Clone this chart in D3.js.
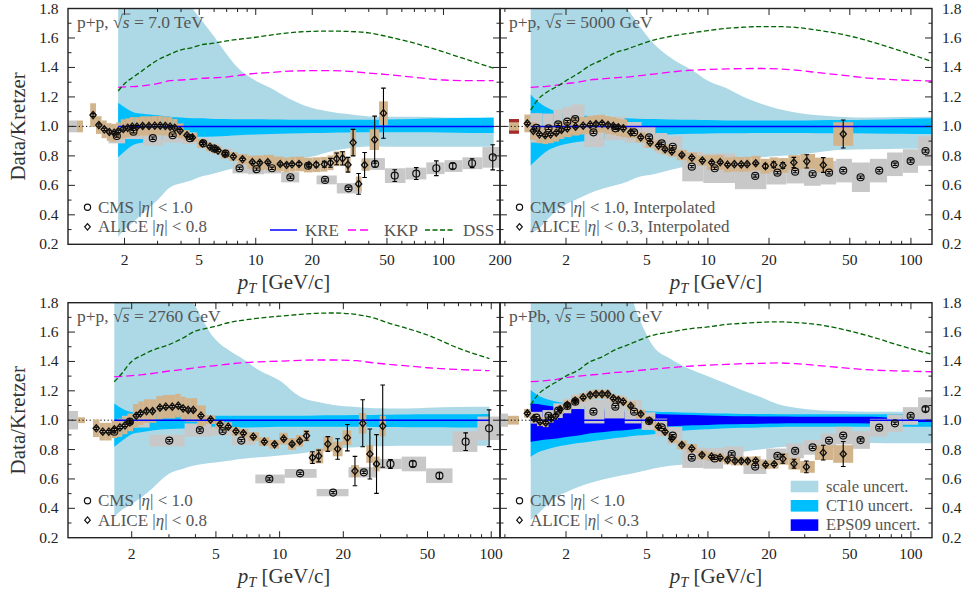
<!DOCTYPE html>
<html><head><meta charset="utf-8">
<script src="https://cdn.jsdelivr.net/npm/d3@7"></script>
<style>body{margin:0;background:#fff} svg, text, tspan{font-family:"Liberation Serif","Times New Roman",serif}</style>
</head><body><svg id="c" width="964" height="593" font-family="Liberation Serif, serif"></svg>
<script>
// ---------------- DATA ----------------
// Top-left: p+p 7.0 TeV
const tlPt      = [1.85,2,2.2,2.5,3,3.5,4,4.6,5,6,7,8,10,12,15,20,25,30,40,50,70,100,140,185];
const tlScaleHi = [1.9,1.9,1.9,1.9,1.9,1.9,1.9,1.8,1.74,1.61,1.49,1.40,1.31,1.26,1.19,1.125,1.10,1.085,1.068,1.065,1.065,1.06,1.057,1.055];
const tlScaleLo = [0.25,0.30,0.343,0.41,0.50,0.587,0.614,0.637,0.655,0.68,0.704,0.72,0.738,0.756,0.777,0.795,0.83,0.848,0.863,0.862,0.862,0.862,0.862,0.862];
const tlCtHi    = [1.16,1.13,1.10,1.085,1.075,1.065,1.06,1.055,1.055,1.05,1.05,1.048,1.048,1.046,1.045,1.045,1.045,1.045,1.045,1.047,1.05,1.055,1.058,1.06];
const tlCtLo    = [0.79,0.83,0.87,0.89,0.905,0.915,0.92,0.925,0.93,0.932,0.935,0.94,0.945,0.948,0.952,0.955,0.957,0.958,0.96,0.96,0.96,0.958,0.956,0.955];
const tlDss     = [1.24,1.29,1.33,1.38,1.45,1.49,1.52,1.535,1.55,1.565,1.58,1.59,1.605,1.62,1.635,1.645,1.647,1.645,1.635,1.61,1.565,1.505,1.445,1.395];
const tlKkp     = [1.265,1.268,1.27,1.275,1.29,1.31,1.315,1.32,1.325,1.33,1.335,1.345,1.36,1.365,1.375,1.378,1.378,1.375,1.362,1.352,1.333,1.315,1.31,1.31];
const tlAlicePt   = [1.36,1.46,1.56,1.66,1.76,1.85,1.97,2.08,2.2,2.33,2.5,2.7,2.9,3.1,3.3,3.5,3.7,3.95,4.3,4.6,5.2,5.7,6.06,6.3,6.86,7.6,8.5,9.6,10.5,11.6,13.5,14.6,15.6,17,19.2,21,23.2,25,27,29,31,33,35.3,38,43,47.9];
const tlAliceVal  = [1.077,1.009,0.98,0.962,0.957,0.967,0.983,0.99,0.998,0.998,1.003,1.003,1.005,1.005,1.003,0.998,0.99,0.97,0.94,0.925,0.885,0.862,0.847,0.836,0.813,0.795,0.777,0.757,0.753,0.757,0.745,0.738,0.743,0.745,0.738,0.74,0.743,0.753,0.78,0.783,0.74,0.89,0.61,0.738,0.91,1.09];
const tlAliceStat = [0.01,0.008,0.008,0.008,0.008,0.008,0.008,0.008,0.008,0.008,0.008,0.008,0.008,0.008,0.008,0.008,0.008,0.008,0.008,0.008,0.008,0.008,0.008,0.008,0.008,0.008,0.008,0.008,0.008,0.008,0.008,0.008,0.008,0.01,0.012,0.015,0.02,0.03,0.04,0.045,0.05,0.09,0.07,0.085,0.16,0.17];
const tlAliceSys  = [0.08,0.06,0.06,0.06,0.06,0.06,0.065,0.065,0.065,0.065,0.065,0.065,0.065,0.065,0.065,0.065,0.06,0.05,0.035,0.03,0.03,0.03,0.03,0.03,0.03,0.03,0.035,0.045,0.05,0.05,0.05,0.05,0.05,0.05,0.05,0.05,0.05,0.05,0.05,0.05,0.05,0.09,0.05,0.04,0.07,0.08];
const tlCmsPt   = [1.82,2.23,2.83,3.61,4.46,5.25,6.0,6.9,8.2,10.1,12.2,15.3,19,23.4,31.2,43.2,55,71.6,91.6,112,142,183];
const tlCmsVal  = [0.935,0.964,0.92,0.94,0.92,0.885,0.85,0.815,0.716,0.71,0.716,0.655,0.733,0.637,0.58,0.745,0.666,0.68,0.716,0.731,0.75,0.79];
const tlCmsStat = [0.008,0.008,0.008,0.008,0.008,0.008,0.008,0.008,0.008,0.008,0.008,0.008,0.008,0.008,0.008,0.02,0.04,0.04,0.05,0.02,0.03,0.085];
const tlCmsSys  = [0.05,0.05,0.05,0.05,0.04,0.035,0.035,0.035,0.035,0.035,0.035,0.035,0.035,0.03,0.035,0.04,0.05,0.04,0.04,0.04,0.04,0.07];

// Top-right: p+p 5000 GeV (interpolated)
const trPt      = [1.34,1.45,1.6,1.8,2,2.3,2.6,3,3.5,4,4.5,5.4,6.5,8.4,10,12.3,15,18,22,27,35,44,64,90,127];
const trScaleHi = [1.9,1.9,1.9,1.9,1.9,1.9,1.9,1.9,1.9,1.8,1.70,1.563,1.47,1.38,1.31,1.26,1.2,1.157,1.12,1.095,1.075,1.066,1.06,1.063,1.066];
const trScaleLo = [0.275,0.30,0.36,0.43,0.47,0.51,0.545,0.575,0.6,0.625,0.655,0.675,0.705,0.735,0.75,0.77,0.78,0.79,0.8,0.806,0.825,0.84,0.845,0.848,0.85];
const trCtHi    = [1.217,1.17,1.13,1.10,1.085,1.075,1.07,1.065,1.06,1.055,1.052,1.05,1.047,1.045,1.043,1.04,1.04,1.04,1.04,1.04,1.042,1.043,1.045,1.05,1.055];
const trCtLo    = [0.734,0.78,0.83,0.863,0.88,0.895,0.905,0.915,0.925,0.93,0.935,0.94,0.945,0.95,0.952,0.953,0.954,0.955,0.955,0.955,0.954,0.953,0.952,0.95,0.948];
const trDss     = [1.11,1.18,1.23,1.27,1.31,1.36,1.41,1.45,1.50,1.525,1.55,1.586,1.61,1.635,1.65,1.665,1.673,1.677,1.677,1.672,1.652,1.63,1.574,1.51,1.44];
const trKkp     = [1.265,1.268,1.272,1.28,1.29,1.30,1.314,1.322,1.33,1.335,1.343,1.355,1.368,1.382,1.386,1.39,1.392,1.393,1.39,1.382,1.365,1.35,1.326,1.315,1.308];
const trAlicePt   = [1.29,1.38,1.48,1.58,1.68,1.79,1.9,2.03,2.23,2.43,2.63,2.81,3.01,3.22,3.42,3.62,3.83,4.17,4.67,5.19,5.71,6.15,6.64,7.44,8.33,9.39,10.44,11.5,12.5,13.5,14.6,15.6,17.2,19.2,21.1,23.4,26.5,30.7,37,46.4];
const trAliceVal  = [1.02,0.97,0.946,0.94,0.946,0.957,0.976,0.987,0.998,1.005,1.012,1.016,1.019,1.009,1.003,0.994,0.987,0.96,0.926,0.89,0.87,0.845,0.83,0.806,0.788,0.768,0.755,0.757,0.74,0.744,0.742,0.744,0.75,0.73,0.74,0.735,0.755,0.763,0.738,0.948];
const trAliceStat = [0.008,0.008,0.008,0.008,0.008,0.008,0.008,0.008,0.008,0.008,0.008,0.008,0.008,0.008,0.008,0.008,0.008,0.008,0.008,0.008,0.008,0.008,0.008,0.008,0.008,0.008,0.008,0.008,0.008,0.008,0.008,0.008,0.008,0.015,0.02,0.02,0.035,0.045,0.05,0.095];
const trAliceSys  = [0.06,0.06,0.06,0.06,0.06,0.06,0.06,0.06,0.06,0.06,0.06,0.06,0.06,0.06,0.06,0.06,0.06,0.04,0.035,0.035,0.035,0.035,0.035,0.035,0.035,0.035,0.05,0.05,0.05,0.05,0.05,0.05,0.05,0.05,0.05,0.05,0.05,0.05,0.05,0.08];
const trCmsPt   = [1.43,1.64,1.83,2.03,2.22,2.73,3.5,4.33,5.13,5.92,6.71,8.33,10.8,17.1,22,26.9,32.8,39.5,46.4,56.5,69.8,83.4,99.7,118];
const trCmsVal  = [0.99,0.987,1.014,1.032,1.05,0.96,0.987,0.96,0.926,0.885,0.862,0.727,0.716,0.664,0.686,0.693,0.677,0.686,0.7,0.655,0.7,0.743,0.765,0.833];
const trCmsStat = [0.008,0.008,0.008,0.008,0.008,0.008,0.008,0.008,0.008,0.008,0.008,0.008,0.008,0.008,0.008,0.008,0.008,0.008,0.008,0.008,0.008,0.008,0.008,0.008];
const trCmsSys  = [0.1,0.1,0.1,0.1,0.1,0.1,0.08,0.07,0.07,0.07,0.07,0.1,0.1,0.09,0.08,0.08,0.08,0.08,0.08,0.1,0.08,0.08,0.08,0.1];

// Bottom-left: p+p 2760 GeV
const blPt      = [1.655,1.8,2,2.25,2.5,3,3.5,3.9,4.85,6,6.5,8,10,12.5,15,18,23,28,33,40,50,70,98];
const blScaleHi = [1.9,1.9,1.9,1.9,1.9,1.9,1.9,1.8,1.568,1.46,1.43,1.34,1.27,1.16,1.125,1.103,1.09,1.081,1.08,1.08,1.085,1.09,1.092];
const blScaleLo = [0.343,0.39,0.43,0.48,0.535,0.635,0.67,0.69,0.71,0.728,0.735,0.748,0.76,0.774,0.79,0.805,0.815,0.822,0.825,0.826,0.826,0.826,0.826];
const blCtHi    = [1.114,1.08,1.055,1.045,1.04,1.035,1.033,1.032,1.03,1.03,1.03,1.03,1.03,1.03,1.032,1.033,1.035,1.036,1.037,1.038,1.04,1.04,1.042];
const blCtLo    = [0.82,0.86,0.905,0.92,0.93,0.94,0.943,0.945,0.947,0.95,0.95,0.952,0.955,0.955,0.955,0.955,0.955,0.954,0.953,0.952,0.952,0.951,0.951];
const blDss     = [1.262,1.32,1.40,1.444,1.475,1.515,1.56,1.60,1.635,1.67,1.678,1.695,1.708,1.72,1.728,1.73,1.72,1.695,1.66,1.625,1.58,1.49,1.42];
const blKkp     = [1.296,1.298,1.303,1.31,1.318,1.335,1.345,1.355,1.37,1.385,1.39,1.397,1.402,1.408,1.41,1.41,1.405,1.39,1.38,1.37,1.357,1.345,1.337];
const blAlicePt   = [1.36,1.46,1.56,1.655,1.76,1.86,1.96,2.1,2.2,2.35,2.51,2.72,2.9,3.11,3.32,3.5,3.7,3.91,4.25,4.72,5.23,5.72,6.22,6.74,7.51,8.47,9.47,10.45,11.45,12.45,13.4,14.3,15.3,16.9,18.8,20.9,22.7,24.7,26.7,28.7,30.7];
const blAliceVal  = [0.945,0.922,0.922,0.938,0.951,0.965,0.985,1.03,1.047,1.062,1.062,1.085,1.092,1.092,1.099,1.08,1.07,1.07,1.031,1.004,0.972,0.956,0.924,0.911,0.888,0.854,0.836,0.874,0.838,0.859,0.894,0.745,0.756,0.838,0.804,0.881,0.654,0.979,0.77,0.702,0.96];
const blAliceStat = [0.008,0.008,0.008,0.008,0.008,0.008,0.008,0.008,0.008,0.008,0.008,0.008,0.008,0.008,0.008,0.008,0.008,0.008,0.008,0.008,0.008,0.008,0.008,0.008,0.008,0.008,0.008,0.008,0.008,0.008,0.03,0.04,0.04,0.05,0.07,0.09,0.1,0.16,0.17,0.2,0.28];
const blAliceSys  = [0.06,0.06,0.06,0.06,0.06,0.06,0.06,0.08,0.08,0.08,0.08,0.08,0.08,0.08,0.08,0.08,0.08,0.08,0.07,0.03,0.03,0.03,0.03,0.03,0.03,0.03,0.03,0.04,0.04,0.04,0.04,0.04,0.05,0.05,0.05,0.05,0.04,0.07,0.06,0.05,0.07];
const blCmsPt   = [1.655,1.96,3.01,4.2,5.38,6.59,8.94,12.5,17.9,25,33.4,42.6,56.9,75.7,97.7];
const blCmsVal  = [0.922,0.99,0.861,0.933,0.926,0.861,0.6,0.638,0.507,0.645,0.702,0.702,0.622,0.854,0.945];
const blCmsStat = [0.008,0.008,0.008,0.008,0.008,0.008,0.008,0.008,0.008,0.008,0.03,0.02,0.02,0.06,0.125];
const blCmsSys  = [0.035,0.04,0.04,0.045,0.03,0.03,0.03,0.03,0.025,0.035,0.035,0.05,0.05,0.07,0.08];

// Bottom-right: p+Pb 5000 GeV
const brPt      = [1.34,1.45,1.6,1.8,2,2.3,2.6,3,3.5,4,4.5,5.4,6.5,8.4,10,12.3,15,18,22,27,35,44,64,90,127];
const brScaleHi = [1.9,1.9,1.9,1.9,1.9,1.9,1.9,1.9,1.9,1.9,1.72,1.5,1.42,1.34,1.30,1.25,1.20,1.16,1.11,1.085,1.067,1.062,1.058,1.058,1.058];
const brScaleLo = [0.32,0.36,0.42,0.479,0.51,0.545,0.57,0.595,0.615,0.63,0.645,0.672,0.69,0.706,0.73,0.755,0.785,0.8,0.815,0.825,0.84,0.847,0.845,0.843,0.843];
const brCtHi    = [1.205,1.17,1.145,1.126,1.115,1.1,1.092,1.085,1.075,1.07,1.065,1.06,1.055,1.05,1.048,1.045,1.043,1.042,1.041,1.04,1.04,1.04,1.04,1.042,1.045];
const brCtLo    = [0.752,0.78,0.80,0.82,0.832,0.845,0.854,0.865,0.878,0.888,0.895,0.905,0.92,0.933,0.938,0.945,0.948,0.951,0.954,0.956,0.956,0.956,0.956,0.955,0.955];
const brEpsHi   = [1.114,1.11,1.10,1.092,1.085,1.078,1.07,1.065,1.06,1.058,1.05,1.042,1.038,1.035,1.032,1.029,1.027,1.026,1.025,1.024,1.024,1.024,1.024,1.014,1.012];
const brEpsLo   = [0.854,0.86,0.868,0.876,0.885,0.895,0.91,0.918,0.928,0.933,0.942,0.951,0.958,0.965,0.968,0.972,0.974,0.976,0.978,0.979,0.979,0.979,0.978,0.986,0.988];
const brDss     = [1.104,1.171,1.22,1.262,1.30,1.341,1.395,1.43,1.48,1.511,1.54,1.58,1.60,1.625,1.635,1.652,1.66,1.666,1.67,1.665,1.65,1.625,1.568,1.505,1.448];
const brKkp     = [1.262,1.265,1.27,1.278,1.29,1.30,1.307,1.315,1.325,1.33,1.338,1.348,1.358,1.369,1.375,1.38,1.385,1.387,1.39,1.385,1.372,1.36,1.342,1.335,1.33];
const brAlicePt   = [1.29,1.39,1.49,1.59,1.69,1.78,1.87,2.03,2.22,2.43,2.63,2.81,3.01,3.21,3.42,3.62,3.83,4.17,4.67,5.15,5.71,6.15,6.64,7.44,8.33,9.35,10.42,11.48,12.5,13.6,14.6,15.7,17.2,19.25,21.2,23.4,26.55,30.55,37,46.4];
const brAliceVal  = [1.047,1.013,0.99,0.983,1.013,1.03,1.074,1.104,1.133,1.155,1.171,1.178,1.178,1.178,1.149,1.137,1.126,1.097,1.042,0.997,0.956,0.922,0.876,0.831,0.808,0.763,0.752,0.745,0.729,0.722,0.722,0.722,0.724,0.697,0.7,0.737,0.704,0.682,0.779,0.77];
const brAliceStat = [0.008,0.008,0.008,0.008,0.008,0.008,0.008,0.008,0.008,0.008,0.008,0.008,0.008,0.008,0.008,0.008,0.008,0.008,0.008,0.008,0.008,0.008,0.008,0.008,0.008,0.008,0.008,0.008,0.008,0.008,0.008,0.008,0.008,0.008,0.008,0.03,0.03,0.04,0.05,0.085];
const brAliceSys  = [0.03,0.03,0.03,0.03,0.03,0.03,0.03,0.03,0.03,0.03,0.03,0.03,0.03,0.03,0.03,0.03,0.03,0.03,0.03,0.03,0.03,0.03,0.03,0.03,0.03,0.03,0.03,0.03,0.03,0.03,0.03,0.03,0.03,0.03,0.03,0.04,0.04,0.04,0.05,0.06];
const brCmsPt   = [1.43,1.64,1.83,2.03,2.22,2.73,3.5,4.33,5.13,5.92,6.71,8.33,10.8,13.1,17.1,22,26.9,32.8,39.5,46.4,56.5,69.8,83.4,99.7,118];
const brCmsVal  = [1.017,1.029,1.065,1.097,1.126,1.058,1.092,1.058,0.994,0.951,0.895,0.745,0.74,0.77,0.684,0.757,0.791,0.815,0.861,0.895,0.865,0.949,0.979,1.029,1.076];
const brCmsStat = [0.008,0.008,0.008,0.008,0.008,0.008,0.008,0.008,0.008,0.008,0.008,0.008,0.008,0.008,0.008,0.008,0.008,0.008,0.008,0.008,0.008,0.008,0.008,0.008,0.015];
const brCmsSys  = [0.04,0.04,0.05,0.05,0.05,0.08,0.08,0.08,0.06,0.06,0.06,0.07,0.07,0.05,0.05,0.05,0.05,0.05,0.05,0.06,0.06,0.06,0.06,0.06,0.08];

const yTicks = [0.2,0.4,0.6,0.8,1.0,1.2,1.4,1.6,1.8];

// ---------------- STYLE / LAYOUT ----------------
const FONT = '"Liberation Serif","Times New Roman",serif';
const C = {scale:'#add8e6', ct10:'#00bfff', eps:'#0000ff', kre:'#0000ff', kkp:'#ff00ff', dss:'#006400',
           cmsBox:'#c8c8c8', aliceBox:'#d2b48c', normRed:'#a52a2a', text:'#222', soft:'#555'};

const panels = [
 {key:'tl', left:68, right:500, top:8.5, bottom:244.3, xdom:[1,200], xlabels:[2,5,10,20,50,100,200], side:'left',
  lab:['p+p, ','7.0 TeV'], leg:['1.0','0.8',''],
  th:{pt:tlPt,sHi:tlScaleHi,sLo:tlScaleLo,cHi:tlCtHi,cLo:tlCtLo,dss:tlDss,kkp:tlKkp},
  cms:{pt:tlCmsPt,v:tlCmsVal,st:tlCmsStat,sy:tlCmsSys}, alice:{pt:tlAlicePt,v:tlAliceVal,st:tlAliceStat,sy:tlAliceSys},
  norm:[{a:0,b:9,h:0.04,c:C.cmsBox},{a:9,b:15,h:0.04,c:C.aliceBox}]},
 {key:'tr', left:500, right:932, top:8.5, bottom:244.3, xdom:[0.946,127], xlabels:[2,5,10,20,50,100], side:'right',
  lab:['p+p, ','5000 GeV'], leg:['1.0','0.3',', Interpolated'],
  th:{pt:trPt,sHi:trScaleHi,sLo:trScaleLo,cHi:trCtHi,cLo:trCtLo,dss:trDss,kkp:trKkp},
  cms:{pt:trCmsPt,v:trCmsVal,st:trCmsStat,sy:trCmsSys}, alice:{pt:trAlicePt,v:trAliceVal,st:trAliceStat,sy:trAliceSys},
  norm:[{a:9,b:19,h:0.05,c:C.normRed},{a:9,b:19,h:0.028,c:C.aliceBox}]},
 {key:'bl', left:68, right:500, top:302.7, bottom:537.7, xdom:[1,110], xlabels:[2,5,10,20,50,100], side:'left',
  lab:['p+p, ','2760 GeV'], leg:['1.0','0.8',''],
  th:{pt:blPt,sHi:blScaleHi,sLo:blScaleLo,cHi:blCtHi,cLo:blCtLo,dss:blDss,kkp:blKkp},
  cms:{pt:blCmsPt,v:blCmsVal,st:blCmsStat,sy:blCmsSys}, alice:{pt:blAlicePt,v:blAliceVal,st:blAliceStat,sy:blAliceSys},
  norm:[{a:1,b:10,h:0.063,c:C.cmsBox},{a:10,b:17,h:0.02,c:C.aliceBox}]},
 {key:'br', left:500, right:932, top:302.7, bottom:537.7, xdom:[0.946,127], xlabels:[2,5,10,20,50,100], side:'right',
  lab:['p+Pb, ','5000 GeV'], leg:['1.0','0.3',''],
  th:{pt:brPt,sHi:brScaleHi,sLo:brScaleLo,cHi:brCtHi,cLo:brCtLo,eHi:brEpsHi,eLo:brEpsLo,dss:brDss,kkp:brKkp},
  cms:{pt:brCmsPt,v:brCmsVal,st:brCmsStat,sy:brCmsSys}, alice:{pt:brAlicePt,v:brAliceVal,st:brAliceStat,sy:brAliceSys},
  norm:[{a:0,b:8,h:0.045,c:C.cmsBox},{a:8,b:19,h:0.03,c:C.aliceBox}]}
];

const svg = d3.select('#c');
const defs = svg.append('defs');

function binEdges(pts){
  const n = pts.length;
  return pts.map((v,i)=>{
    const lo = i>0 ? Math.sqrt(pts[i-1]*v) : v/Math.sqrt(pts[1]/v);
    const hi = i<n-1 ? Math.sqrt(pts[i+1]*v) : v*Math.sqrt(v/pts[n-2]);
    return [lo,hi];
  });
}
function diamond(cx,cy,s){ return `M${cx},${cy-s*1.15}L${cx+s},${cy}L${cx},${cy+s*1.15}L${cx-s},${cy}Z`; }

panels.forEach(p=>{
  const x = d3.scaleLog().domain(p.xdom).range([p.left,p.right]);
  const y = d3.scaleLinear().domain([0.2,1.8]).range([p.bottom,p.top]);
  const clipId = 'clip-'+p.key;
  defs.append('clipPath').attr('id',clipId).append('rect')
    .attr('x',p.left).attr('y',p.top).attr('width',p.right-p.left).attr('height',p.bottom-p.top);
  const g = svg.append('g').attr('font-family',FONT);
  const c = g.append('g').attr('clip-path',`url(#${clipId})`);

  // normalization boxes
  p.norm.forEach(nb=>{
    c.append('rect').attr('x',p.left+nb.a).attr('width',nb.b-nb.a)
      .attr('y',y(1+nb.h)).attr('height',y(1-nb.h)-y(1+nb.h)).attr('fill',nb.c);
  });
  // dotted unity line
  c.append('line').attr('x1',p.left).attr('x2',p.right).attr('y1',y(1)).attr('y2',y(1))
    .attr('stroke','#000').attr('stroke-width',1).attr('stroke-dasharray','1.2,2.4');

  const t = p.th;
  const band = (hi,lo,color)=>{
    const rows = t.pt.map((v,i)=>[v,hi[i],lo[i]]);
    c.append('path').datum(rows)
      .attr('d', d3.area().x(d=>x(d[0])).y0(d=>y(d[2])).y1(d=>y(d[1])).curve(d3.curveMonotoneX))
      .attr('fill',color);
  };
  band(t.sHi,t.sLo,C.scale);
  band(t.cHi,t.cLo,C.ct10);
  if (t.eHi) band(t.eHi,t.eLo,C.eps);

  // systematic boxes
  const boxes = (ds,color)=>{
    const e = binEdges(ds.pt);
    c.append('g').selectAll('rect').data(ds.pt).join('rect')
      .attr('x',(d,i)=>x(e[i][0])).attr('width',(d,i)=>x(e[i][1])-x(e[i][0]))
      .attr('y',(d,i)=>y(ds.v[i]+ds.sy[i])).attr('height',(d,i)=>y(ds.v[i]-ds.sy[i])-y(ds.v[i]+ds.sy[i]))
      .attr('fill',color);
  };
  boxes(p.cms,C.cmsBox);
  boxes(p.alice,C.aliceBox);

  // theory lines
  const line = d3.line().x(d=>x(d[0])).y(d=>y(d[1])).curve(d3.curveMonotoneX);
  c.append('path').datum(t.pt.map(v=>[v,1])).attr('d',line).attr('fill','none').attr('stroke',C.kre).attr('stroke-width',1.5);
  c.append('path').datum(t.pt.map((v,i)=>[v,t.kkp[i]])).attr('d',line).attr('fill','none').attr('stroke',C.kkp).attr('stroke-width',1.3).attr('stroke-dasharray','8,4');
  c.append('path').datum(t.pt.map((v,i)=>[v,t.dss[i]])).attr('d',line).attr('fill','none').attr('stroke',C.dss).attr('stroke-width',1.3).attr('stroke-dasharray','5,2.5');

  // error bars + markers
  const markers = (ds,type)=>{
    const gg = c.append('g');
    ds.pt.forEach((v,i)=>{
      const px = x(v), y1 = y(ds.v[i]-ds.st[i]), y2 = y(ds.v[i]+ds.st[i]);
      gg.append('line').attr('x1',px).attr('x2',px).attr('y1',y1).attr('y2',y2).attr('stroke','#000').attr('stroke-width',1.1);
      [y1,y2].forEach(yy=>gg.append('line').attr('x1',px-2.3).attr('x2',px+2.3).attr('y1',yy).attr('y2',yy).attr('stroke','#000').attr('stroke-width',1.1));
      if (type==='c') gg.append('circle').attr('cx',px).attr('cy',y(ds.v[i])).attr('r',3.5).attr('fill','none').attr('stroke','#111').attr('stroke-width',1.2);
      else gg.append('path').attr('d',diamond(px,y(ds.v[i]),3.1)).attr('fill','none').attr('stroke','#111').attr('stroke-width',1.35);
    });
  };
  markers(p.cms,'c');
  markers(p.alice,'d');

  // ticks
  const ax = g.append('g').attr('stroke','#222').attr('stroke-width',1);
  const lo = Math.floor(Math.log10(p.xdom[0])), hi = Math.ceil(Math.log10(p.xdom[1]));
  for (let k=lo;k<=hi;k++) for (let m=1;m<=9;m++){
    const v = m*Math.pow(10,k);
    if (v<=p.xdom[0]*1.001 || v>=p.xdom[1]*0.999) continue;
    const L = p.xlabels.includes(+v.toPrecision(3)) ? 6.5 : 3.5;
    const px = x(v);
    ax.append('line').attr('x1',px).attr('x2',px).attr('y1',p.bottom).attr('y2',p.bottom-L);
    ax.append('line').attr('x1',px).attr('x2',px).attr('y1',p.top).attr('y2',p.top+L);
  }
  for (let v=0.3; v<1.8; v+=0.1){
    const vv = Math.round(v*10)/10;
    const L = (Math.round(vv*10)%2===0) ? 7 : 3.5;
    const py = y(vv);
    ax.append('line').attr('x1',p.left).attr('x2',p.left+L).attr('y1',py).attr('y2',py);
    ax.append('line').attr('x1',p.right).attr('x2',p.right-L).attr('y1',py).attr('y2',py);
  }
  // tick labels
  g.append('g').selectAll('text').data(p.xlabels).join('text')
    .attr('x',d=>x(d)).attr('y',p.bottom+21).attr('text-anchor','middle')
    .attr('font-size',15.5).attr('fill',C.text).text(d=>d);
  g.append('g').selectAll('text').data(yTicks).join('text')
    .attr('x',p.side==='left'? p.left-9.5 : p.right+10).attr('y',d=>y(d)+5)
    .attr('text-anchor',p.side==='left'?'end':'start')
    .attr('font-size',15.5).attr('fill',C.text).text(d=>d.toFixed(1));

  // frame
  g.append('rect').attr('x',p.left).attr('y',p.top).attr('width',p.right-p.left).attr('height',p.bottom-p.top)
    .attr('fill','none').attr('stroke','#222').attr('stroke-width',1.4);

  // x title
  const xt = g.append('text').attr('x',(p.left+p.right)/2).attr('y',p.bottom+45).attr('text-anchor','middle')
     .attr('font-size',21).attr('fill','#333');
  xt.append('tspan').attr('font-style','italic').text('p');
  xt.append('tspan').attr('font-style','italic').attr('font-size',14.5).attr('dy',4).text('T');
  xt.append('tspan').attr('dy',-4).text(' [GeV/c]');

  // y title
  if (p.side==='left'){
    g.append('text').attr('transform',`translate(25,${(p.top+p.bottom)/2}) rotate(-90)`)
      .attr('text-anchor','middle').attr('font-size',21).attr('fill','#333').text('Data/Kretzer');
  }

  // panel label with sqrt(s)
  const lx = p.left+9, ly = p.top+19.5;
  const lt = g.append('text').attr('x',lx).attr('y',ly).attr('font-size',17.5).attr('fill',C.soft);
  lt.append('tspan').text(p.lab[0]+'√');
  lt.append('tspan').attr('font-style','italic').text('s');
  lt.append('tspan').text(' = '+p.lab[1]);
  const node = lt.node(), si = (p.lab[0]+'√').length;
  const r0 = node.getEndPositionOfChar(si-1).x, s1 = node.getEndPositionOfChar(si).x;
  g.append('line').attr('x1',r0-0.8).attr('x2',s1+0.8).attr('y1',ly-14).attr('y2',ly-14)
    .attr('stroke',C.soft).attr('stroke-width',0.9);

  // data legend
  const r1 = p.bottom-37, r2 = p.bottom-17.5, sx = p.left+19.5;
  g.append('circle').attr('cx',sx).attr('cy',r1).attr('r',3.1).attr('fill','none').attr('stroke','#111').attr('stroke-width',1.2);
  g.append('path').attr('d',diamond(sx,r2,2.8)).attr('fill','none').attr('stroke','#111').attr('stroke-width',1.2);
  const mk = (yy,pre,val)=>{
    const tt = g.append('text').attr('x',p.left+30).attr('y',yy+5.5).attr('font-size',17).attr('fill',C.soft);
    tt.append('tspan').text(pre+'|');
    tt.append('tspan').attr('font-style','italic').text('η');
    tt.append('tspan').text('| < '+val+p.leg[2]);
  };
  mk(r1,'CMS ',p.leg[0]);
  mk(r2,'ALICE ',p.leg[1]);
});

// theory legend (top-left panel)
(function(){
  const yy = 230;
  const g = svg.append('g').attr('font-family',FONT);
  g.append('line').attr('x1',270).attr('x2',297).attr('y1',yy).attr('y2',yy).attr('stroke',C.kre).attr('stroke-width',1.5);
  g.append('text').attr('x',305).attr('y',yy+5.5).attr('font-size',17).attr('fill',C.soft).text('KRE');
  g.append('line').attr('x1',348).attr('x2',372).attr('y1',yy).attr('y2',yy).attr('stroke',C.kkp).attr('stroke-width',1.3).attr('stroke-dasharray','8,4');
  g.append('text').attr('x',384).attr('y',yy+5.5).attr('font-size',17).attr('fill',C.soft).text('KKP');
  g.append('line').attr('x1',425).attr('x2',454).attr('y1',yy).attr('y2',yy).attr('stroke',C.dss).attr('stroke-width',1.3).attr('stroke-dasharray','5,2.5');
  g.append('text').attr('x',463).attr('y',yy+5.5).attr('font-size',17).attr('fill',C.soft).text('DSS');
})();

// uncertainty legend (bottom-right panel)
(function(){
  const items = [['scale uncert.',C.scale],['CT10 uncert.',C.ct10],['EPS09 uncert.',C.eps]];
  const g = svg.append('g').attr('font-family',FONT);
  items.forEach((it,i)=>{
    const yc = 486.5 + i*19.3;
    g.append('rect').attr('x',790.7).attr('y',yc-5.8).attr('width',27.6).attr('height',11.6).attr('fill',it[1]);
    g.append('text').attr('x',826).attr('y',yc+5).attr('font-size',16.5).attr('fill',C.soft).text(it[0]);
  });
})();
</script></body></html>
